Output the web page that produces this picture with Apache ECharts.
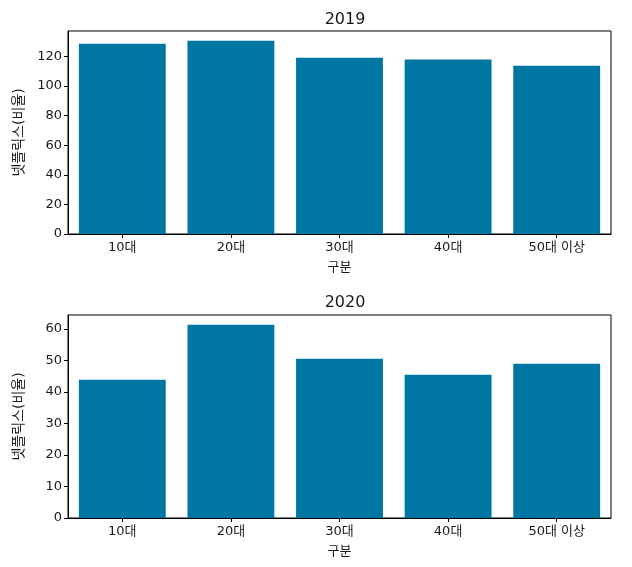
<!DOCTYPE html>
<html>
<head>
<meta charset="utf-8">
<script src="https://cdn.jsdelivr.net/npm/echarts@6/dist/echarts.min.js"></script>
<style>
html,body{margin:0;padding:0;background:#fff;}
#chart{width:632px;height:567px;}
</style>
</head>
<body>
<div id="chart"></div>
<script>
const categories = ['10대', '20대', '30대', '40대', '50대 이상'];
const values2019 = [128.6, 130.6, 119.1, 117.8, 113.7];
const values2020 = [43.9, 61.4, 50.6, 45.5, 49.0];
const titles = ['2019', '2020'];
const xName = '구분';
const yName = '넷플릭스(비율)';

const FONT = '"DejaVu Sans", "Noto Sans CJK KR", sans-serif';
const BAR_COLOR = '#0076a3';
const TEXT = '#1a1a1a';
const chart = echarts.init(document.getElementById('chart'), null, {renderer: 'canvas'});

function yAxisFor(idx, maxVal, interval) {
  return {
    type: 'value', gridIndex: idx, min: 0, max: +(maxVal * 1.05).toFixed(2), interval: interval,
    name: yName, nameLocation: 'middle', nameGap: 42,
    nameTextStyle: {fontFamily: FONT, fontSize: 14, color: TEXT},
    axisLine: {show: true, lineStyle: {color: '#000', width: 1}},
    axisTick: {show: true, length: 4, lineStyle: {color: '#000'}},
    axisLabel: {fontFamily: FONT, fontSize: 13, color: TEXT, margin: 6, showMaxLabel: false},
    splitLine: {show: false}
  };
}
function xAxisFor(idx) {
  return {
    type: 'category', gridIndex: idx, data: categories, boundaryGap: true,
    name: xName, nameLocation: 'middle', nameGap: 27,
    nameTextStyle: {fontFamily: FONT, fontSize: 13, color: TEXT},
    axisLine: {show: true, lineStyle: {color: '#000', width: 1}},
    axisTick: {show: true, alignWithLabel: true, length: 4, lineStyle: {color: '#000'}},
    axisLabel: {fontFamily: FONT, fontSize: 13, color: TEXT, margin: 7}
  };
}

chart.setOption({
  backgroundColor: '#fff',
  animation: false,
  title: [
    {text: titles[0], left: 340, top: 7, textAlign: 'center', textStyle: {fontFamily: FONT, fontSize: 16, fontWeight: 'normal', color: TEXT}},
    {text: titles[1], left: 340, top: 290, textAlign: 'center', textStyle: {fontFamily: FONT, fontSize: 16, fontWeight: 'normal', color: TEXT}}
  ],
  grid: [
    {left: 68, top: 31, width: 543, height: 203, show: true, borderColor: '#000', borderWidth: 1, backgroundColor: 'transparent'},
    {left: 68, top: 315, width: 543, height: 203, show: true, borderColor: '#000', borderWidth: 1, backgroundColor: 'transparent'}
  ],
  xAxis: [xAxisFor(0), xAxisFor(1)],
  yAxis: [yAxisFor(0, Math.max(...values2019), 20), yAxisFor(1, Math.max(...values2020), 10)],
  series: [
    {type: 'bar', xAxisIndex: 0, yAxisIndex: 0, data: values2019, barWidth: '80%', itemStyle: {color: BAR_COLOR}},
    {type: 'bar', xAxisIndex: 1, yAxisIndex: 1, data: values2020, barWidth: '80%', itemStyle: {color: BAR_COLOR}}
  ]
});
</script>
</body>
</html>
